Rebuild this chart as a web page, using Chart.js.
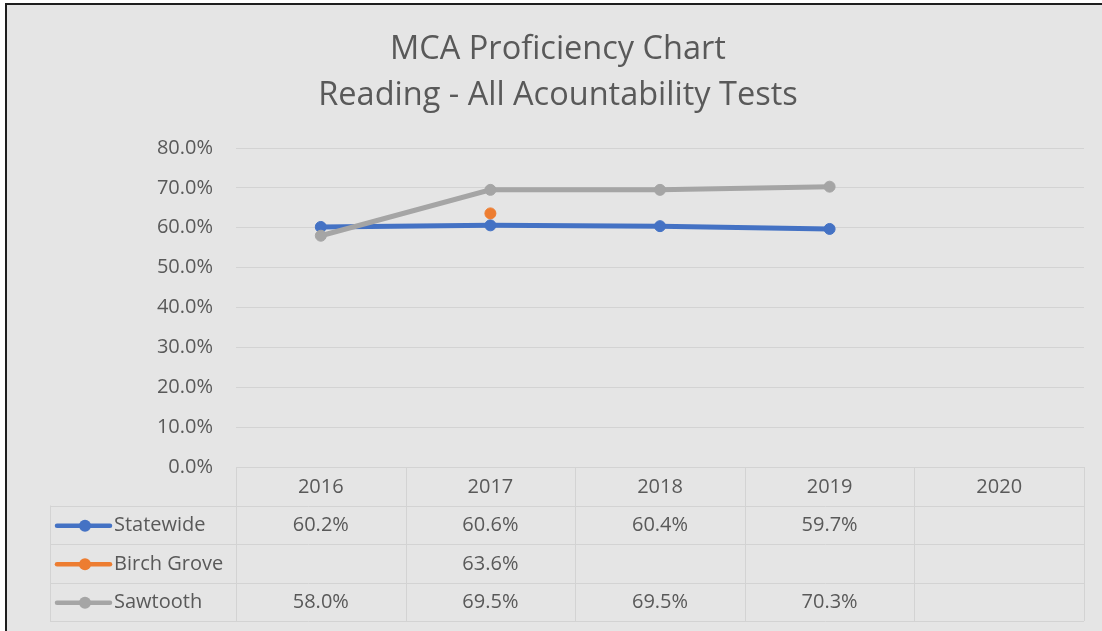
<!DOCTYPE html>
<html>
<head>
<meta charset="utf-8">
<script src="https://cdn.jsdelivr.net/npm/chart.js@4/dist/chart.umd.min.js"></script>
<style>
  html, body { margin: 0; padding: 0; background: #ffffff; overflow: hidden; }
  .frame {
    position: absolute; left: 5px; top: 3px; width: 1120px; height: 650px;
    background: #e5e5e5;
    border-left: 2px solid #1e1e1e; border-top: 2px solid #1e1e1e;
  }
  canvas { position: absolute; left: 0; top: 0; }
</style>
</head>
<body>
<div class="frame"></div>
<canvas id="chart" width="1102" height="631"></canvas>
<script>
const titleLines = ["MCA Proficiency Chart", "Reading - All Acountability Tests"];
const years = ["2016", "2017", "2018", "2019", "2020"];
const statewide = [60.2, 60.6, 60.4, 59.7, null];
const birchGrove = [null, 63.6, null, null, null];
const sawtooth = [58.0, 69.5, 69.5, 70.3, null];

const textColor = "#595959";
const gridColor = "#d3d3d3";
const FONT = "'Open Sans', 'Liberation Sans', sans-serif";
const rowH = 38.5;

// titles
const titlePlugin = {
  id: "titles",
  afterDraw(chart) {
    const ctx = chart.ctx;
    ctx.save();
    ctx.fillStyle = textColor;
    ctx.font = "32.5px " + FONT;
    ctx.textAlign = "center";
    ctx.textBaseline = "alphabetic";
    ctx.fillText(titleLines[0], 558, 59);
    ctx.fillText(titleLines[1], 558, 105);
    ctx.restore();
  }
};

// data table under the plot, with legend keys
const tablePlugin = {
  id: "dataTable",
  afterDraw(chart) {
    const ctx = chart.ctx;
    const xs = chart.scales.x;
    const area = chart.chartArea;
    const step = (area.right - area.left) / years.length;
    const top = area.bottom;
    const labelLeft = 50;
    const rows = chart.data.datasets.slice().sort((a, b) => a.row - b.row);

    ctx.save();
    ctx.strokeStyle = gridColor;
    ctx.lineWidth = 1;
    ctx.beginPath();
    // horizontal lines
    for (let r = 0; r <= rows.length + 1; r++) {
      const y = Math.round(top + r * rowH) + 0.5;
      ctx.moveTo(r === 0 ? area.left : labelLeft, y);
      ctx.lineTo(area.right, y);
    }
    // vertical lines
    for (let c = 0; c <= years.length; c++) {
      const x = Math.round(area.left + c * step) + 0.5;
      ctx.moveTo(x, top);
      ctx.lineTo(x, top + (rows.length + 1) * rowH);
    }
    ctx.moveTo(labelLeft + 0.5, top + rowH);
    ctx.lineTo(labelLeft + 0.5, top + (rows.length + 1) * rowH);
    ctx.stroke();

    ctx.fillStyle = textColor;
    ctx.font = "20px " + FONT;
    ctx.textAlign = "center";
    ctx.textBaseline = "middle";
    years.forEach((yr, i) => {
      ctx.fillText(yr, xs.getPixelForValue(i), top + rowH / 2 + 1);
    });

    rows.forEach((ds, r) => {
      const cy = top + (r + 1) * rowH + rowH / 2 + 1;
      // legend key
      ctx.strokeStyle = ds.borderColor;
      ctx.lineWidth = 4.5;
      ctx.lineCap = "round";
      ctx.beginPath();
      ctx.moveTo(57, cy);
      ctx.lineTo(110, cy);
      ctx.stroke();
      ctx.fillStyle = ds.borderColor;
      ctx.beginPath();
      ctx.arc(85, cy, 6, 0, Math.PI * 2);
      ctx.fill();
      ctx.fillStyle = textColor;
      ctx.textAlign = "left";
      ctx.fillText(ds.label, 114, cy);
      ctx.textAlign = "center";
      ds.data.forEach((v, i) => {
        if (v !== null) ctx.fillText(v.toFixed(1) + "%", xs.getPixelForValue(i), cy);
      });
    });
    ctx.restore();
  }
};

function series(label, data, color, row, order) {
  return {
    label, data, row, order,
    borderColor: color,
    backgroundColor: color,
    pointBackgroundColor: color,
    pointBorderColor: color,
    borderWidth: 5,
    pointRadius: 5.5,
    pointBorderWidth: 1,
    fill: false,
    tension: 0,
    spanGaps: false
  };
}

new Chart(document.getElementById("chart").getContext("2d"), {
  type: "line",
  data: {
    labels: years,
    datasets: [
      series("Statewide", statewide, "#4472c4", 0, 2),
      series("Birch Grove", birchGrove, "#ed7d31", 1, 1),
      series("Sawtooth", sawtooth, "#a5a5a5", 2, 0)
    ]
  },
  options: {
    responsive: false,
    devicePixelRatio: 1,
    animation: false,
    layout: { padding: { left: 0, right: 18, top: 148, bottom: 164 } },
    plugins: {
      legend: { display: false },
      title: { display: false },
      tooltip: { enabled: false }
    },
    scales: {
      x: {
        display: false,
        offset: true
      },
      y: {
        min: 0,
        max: 80,
        border: { display: false },
        grid: { color: gridColor, lineWidth: 1, drawTicks: false },
        ticks: {
          stepSize: 10,
          padding: 23,
          color: textColor,
          font: { family: FONT, size: 20 },
          callback: (v) => v.toFixed(1) + "%"
        },
        afterFit(scale) { scale.width = 236; }
      }
    }
  },
  plugins: [titlePlugin, tablePlugin]
});
</script>
</body>
</html>
